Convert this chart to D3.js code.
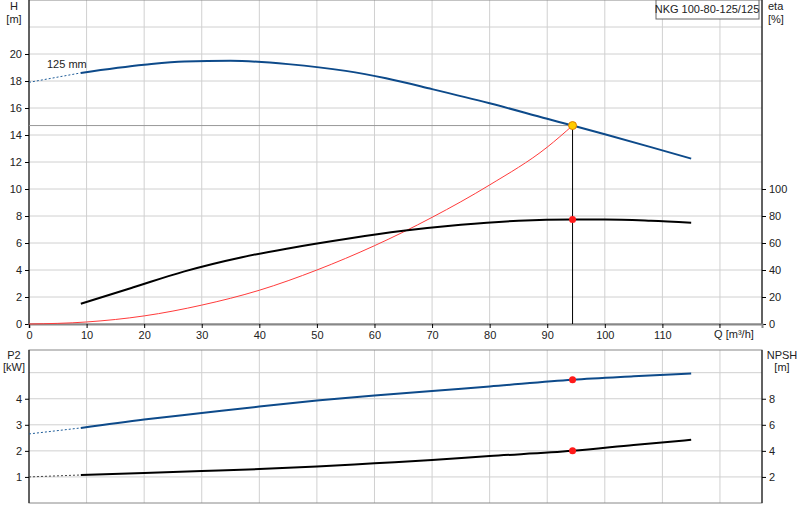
<!DOCTYPE html>
<html><head><meta charset="UTF-8">
<script src="https://cdn.jsdelivr.net/npm/d3@7"></script>
<style>body{margin:0;background:#fff}text{font-family:Arial,"Liberation Sans",sans-serif;font-size:11px;fill:#222}</style>
</head><body><script>
const opQ = 94.4;
const headQ = [9,20,27,35,45,55,62,70,80,90,94.4,100,108,115];
const headH = [18.6,19.2,19.45,19.5,19.25,18.75,18.2,17.4,16.35,15.2,14.7,14.05,13.1,12.25];
const headExt = [[0,17.9],[9,18.6]];
const etaQ = [9,18,27,37,45,55,65,75,85,94.4,100,108,115];
const etaV = [15,27,39,49.5,56,63,69,73.5,76.5,77.5,77.5,76.5,75];
const sysQ = [0,10,20,30,40,50,60,70,80,90,94.4];
const sysH = [0,0.15,0.6,1.4,2.5,4.0,5.8,7.9,10.3,13.1,14.7];
const p2Q = [9,20,30,40,50,60,70,80,94.4,105,115];
const p2V = [2.88,3.2,3.45,3.7,3.93,4.12,4.3,4.47,4.73,4.86,4.97];
const p2Ext = [[0,2.65],[9,2.88]];
const npQ = [9,20,30,40,50,60,70,80,94.4,105,115];
const npV = [2.15,2.3,2.45,2.6,2.8,3.05,3.3,3.6,4.0,4.45,4.85];
const npExt = [[0,2.0],[9,2.15]];
const opH = 14.7, opEta = 77.5, opP2 = 4.73, opNp = 4.0;

const svg = d3.select('body').append('svg').attr('width',800).attr('height',520);
const L = 29, R = 762;
const x = d3.scaleLinear().domain([0,127.3]).range([L,R]);
const yH = d3.scaleLinear().domain([0,24]).range([324,0]);
const yE = d3.scaleLinear().domain([0,240]).range([324,0]);
const yP = d3.scaleLinear().domain([0,6.1]).range([503,344]);
const yN = d3.scaleLinear().domain([0,12.2]).range([503,344]);
const grid = '#d0d0d0';

function panel(y, top, bot, ticks){
  const g = svg.append('g');
  d3.range(10,130,10).forEach(q=>g.append('line').attr('x1',x(q)).attr('x2',x(q)).attr('y1',top).attr('y2',bot).attr('stroke',grid));
  ticks.forEach(t=>g.append('line').attr('x1',L).attr('x2',R).attr('y1',y(t)).attr('y2',y(t)).attr('stroke',grid));
  g.append('rect').attr('x',L).attr('y',top).attr('width',R-L).attr('height',bot-top).attr('fill','none').attr('stroke','#888');
  g.append('line').attr('x1',L).attr('x2',L).attr('y1',top).attr('y2',bot).attr('stroke','#000');
  g.append('line').attr('x1',R).attr('x2',R).attr('y1',top).attr('y2',bot).attr('stroke','#000');
}
panel(yH,0,324,d3.range(2,24,2));
panel(yP,350,503,[1,2,3,4,5]);

// axes
const fmt = d3.format('d');
svg.append('g').attr('transform',`translate(${L},0)`).call(d3.axisLeft(yH).tickValues(d3.range(0,22,2)).tickSize(4)).call(g=>g.select('.domain').remove());
svg.append('g').attr('transform',`translate(${R},0)`).call(d3.axisRight(yE).tickValues(d3.range(0,120,20)).tickSize(4)).call(g=>g.select('.domain').remove());
svg.append('g').attr('transform',`translate(0,324)`).call(d3.axisBottom(x).tickValues(d3.range(0,120,10)).tickSize(4)).call(g=>g.select('.domain').attr('stroke','#888').attr('stroke-width',2));
svg.append('g').attr('transform',`translate(${L},0)`).call(d3.axisLeft(yP).tickValues([1,2,3,4]).tickFormat(fmt).tickSize(4)).call(g=>g.select('.domain').remove());
svg.append('g').attr('transform',`translate(${R},0)`).call(d3.axisRight(yN).tickValues([2,4,6,8]).tickFormat(fmt).tickSize(4)).call(g=>g.select('.domain').remove());
svg.selectAll('.tick text').style('font-family','Arial,"Liberation Sans",sans-serif').style('font-size','11px').attr('fill','#222');
svg.append('line').attr('x1',x(120)).attr('x2',x(120)).attr('y1',324).attr('y2',328).attr('stroke','#000');

function txt(t,px,py,anchor){svg.append('text').attr('x',px).attr('y',py).attr('text-anchor',anchor||'middle').text(t);}
txt('H',14,10);txt('[m]',14,23);
txt('eta',768,10,'start');txt('[%]',768,23,'start');
txt('Q [m³/h]',x(120)+14,338);
txt('P2',14,359);txt('[kW]',14,371);
txt('NPSH',782,359);txt('[m]',782,371);
txt('125 mm',47,68,'start');
svg.append('rect').attr('x',656).attr('y',0).attr('width',103).attr('height',19).attr('fill','#fff').attr('stroke','#666');
txt('NKG 100-80-125/125',707,13);

const line = d3.line().curve(d3.curveMonotoneX);
function draw(qs,vs,ys,color,w){svg.append('path').attr('d',line(qs.map((q,i)=>[x(q),ys(vs[i])]))).attr('fill','none').attr('stroke',color).attr('stroke-width',w);}
function dash(pts,ys,color){svg.append('path').attr('d',line(pts.map(p=>[x(p[0]),ys(p[1])]))).attr('fill','none').attr('stroke',color).attr('stroke-width',1).attr('stroke-dasharray','2,2');}

// operating lines
svg.append('line').attr('x1',L).attr('x2',x(opQ)).attr('y1',yH(opH)).attr('y2',yH(opH)).attr('stroke','#999');
svg.append('line').attr('x1',x(opQ)).attr('x2',x(opQ)).attr('y1',yH(opH)).attr('y2',324).attr('stroke','#000');

draw(sysQ,sysH,yH,'#ff3b3b',1);
draw(etaQ,etaV,yE,'#000',2);
dash(headExt,yH,'#1f5d99');
draw(headQ,headH,yH,'#0d4a8a',2);
dash(p2Ext,yP,'#1f5d99');
draw(p2Q,p2V,yP,'#0d4a8a',2);
dash(npExt,yN,'#444');
draw(npQ,npV,yN,'#000',2);

svg.append('circle').attr('cx',x(opQ)).attr('cy',yH(opH)).attr('r',4).attr('fill','#ffcc00').attr('stroke','#e08000');
[[yE,opEta],[yP,opP2],[yN,opNp]].forEach(([s,v])=>svg.append('circle').attr('cx',x(opQ)).attr('cy',s(v)).attr('r',3.5).attr('fill','#ff1a1a'));
</script></body></html>
